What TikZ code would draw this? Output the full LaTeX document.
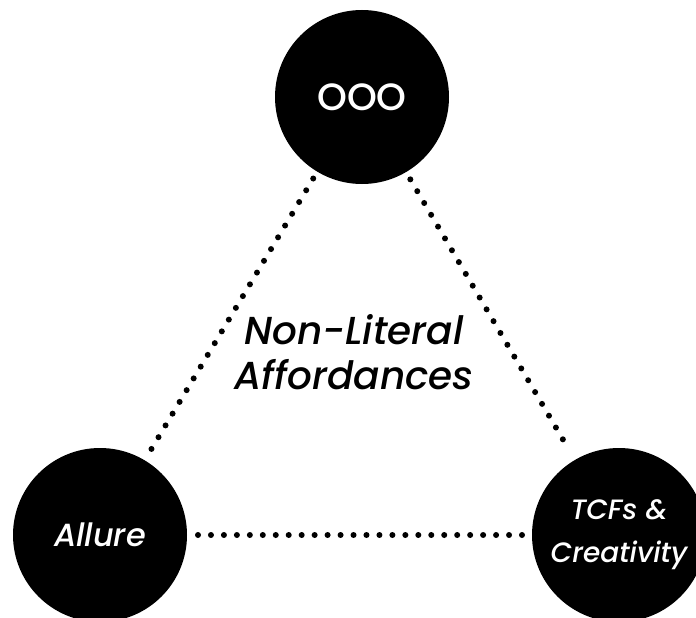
\documentclass[tikz,border=0pt]{standalone}
\usepackage{fontspec}
\setmainfont{Poppins}[UprightFont=* Medium, ItalicFont=* Medium Italic]
\begin{document}
\begin{tikzpicture}[x=1pt,y=-1pt,
  blob/.style={circle,fill=black,text=white,minimum size=174pt,inner sep=0pt,outer sep=0pt,align=center},
  dotline/.style={line width=6pt,line cap=round,dash pattern=on 0pt off 13.7pt}]
\useasboundingbox (0,0) rectangle (696,618);
\node[blob,font=\fontsize{38}{40}\selectfont] (ooo) at (362,97) {OOO};
\node[blob,font=\fontsize{32}{40}\selectfont\itshape] (allure) at (100,535) {Allure};
\node[blob,font=\fontsize{28}{43}\selectfont\itshape] (tcf) at (619,535) {TCFs \&\\Creativity};
\node[font=\fontsize{39}{45}\selectfont\itshape,align=center] (mid) at (354,352) {Non-Literal\\Affordances};
\draw[dotline,shorten <=8pt,shorten >=12pt] (ooo) -- (allure);
\draw[dotline,shorten <=8.5pt,shorten >=11pt] (ooo) -- (tcf);
\draw[dotline,dash pattern=on 0pt off 12.96pt,shorten <=11pt,shorten >=10pt] (allure) -- (tcf);
\end{tikzpicture}
\end{document}
